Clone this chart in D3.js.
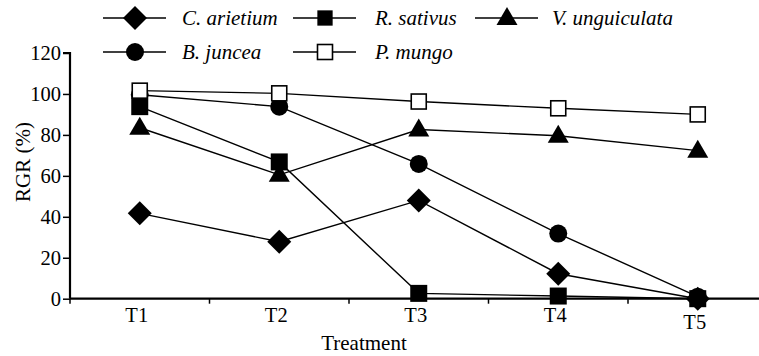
<!DOCTYPE html>
<html>
<head>
<meta charset="utf-8">
<script src="https://cdn.jsdelivr.net/npm/d3@7"></script>
<style>
  body { margin: 0; background: #fff; }
</style>
</head>
<body>
<svg id="chart" width="759" height="356"></svg>
<script>
// categories on the x axis
var treatments = ["T1", "T2", "T3", "T4", "T5"];
var yTicks = [0, 20, 40, 60, 80, 100, 120];

// RGR (%)
var arietium = [41.7, 27.8, 48, 12.2, 0];
var sativus = [93.8, 66.8, 2.6, 1.3, 0];
var unguiculata = [83.5, 60.5, 82.6, 79.6, 72.3];
var juncea = [99.6, 93.8, 65.8, 31.8, 1];
var mungo = [101.6, 100.3, 96.3, 93, 90];

var seriesNames = ["C. arietium", "R. sativus", "V. unguiculata", "B. juncea", "P. mungo"];

var series = [
    {name: seriesNames[0], values: arietium, shape: "diamond"},
    {name: seriesNames[1], values: sativus, shape: "square"},
    {name: seriesNames[2], values: unguiculata, shape: "triangle"},
    {name: seriesNames[3], values: juncea, shape: "circle"},
    {name: seriesNames[4], values: mungo, shape: "open"}
];

var FONT = "Liberation Serif";

var svg = d3.select("#chart");
var margin = {left: 70, top: 53, bottom: 298.7};

var x = d3.scaleBand().domain(treatments).range([margin.left, margin.left + 5 * 139.5]);
var y = d3.scaleLinear().domain([0, 120]).range([margin.bottom, margin.top]);

// marker drawing
function marker(g, shape, small) {
    var k = small ? 0.9 : 1;
    if (shape === "diamond") {
        g.append("path").attr("d", "M0,-12L12,0L0,12L-12,0Z").attr("fill", "#000");
    } else if (shape === "square") {
        g.append("rect").attr("x", -8.5 * k).attr("y", -8.5 * k).attr("width", 17 * k).attr("height", 17 * k).attr("fill", "#000");
    } else if (shape === "triangle") {
        g.append("path").attr("d", "M0,-11L10.5,7L-10.5,7Z").attr("fill", "#000");
    } else if (shape === "circle") {
        g.append("circle").attr("r", 9).attr("fill", "#000");
    } else {
        g.append("rect").attr("x", -7.5).attr("y", -7.5).attr("width", 15).attr("height", 15)
            .attr("fill", "#fff").attr("stroke", "#000").attr("stroke-width", 1.6);
    }
}

var cx = function (i) { return x(treatments[i]) + x.bandwidth() / 2; };

var line = d3.line()
    .x(function (d, i) { return cx(i); })
    .y(function (d) { return y(d); });

// lines first, then markers on top
series.forEach(function (s) {
    svg.append("path")
        .datum(s.values)
        .attr("d", line)
        .attr("fill", "none")
        .attr("stroke", "#000")
        .attr("stroke-width", 1.4);
});

series.forEach(function (s) {
    s.values.forEach(function (v, i) {
        var g = svg.append("g").attr("transform", "translate(" + cx(i) + "," + y(v) + ")");
        marker(g, s.shape);
    });
});

// axes
var yAxis = svg.append("g")
    .attr("transform", "translate(" + margin.left + ",0)")
    .call(d3.axisLeft(y).tickValues(yTicks).tickSize(7).tickPadding(2));

var xAxis = svg.append("g")
    .attr("transform", "translate(0," + margin.bottom + ")")
    .call(d3.axisBottom(x).tickSize(0).tickPadding(8.5));

// tick marks between categories
svg.append("g").selectAll("line")
    .data(treatments.slice(1))
    .enter().append("line")
    .attr("x1", function (d) { return x(d); })
    .attr("x2", function (d) { return x(d); })
    .attr("y1", margin.bottom)
    .attr("y2", margin.bottom + 5)
    .attr("stroke", "#000").attr("stroke-width", 1.5);
svg.append("line")
    .attr("x1", margin.left).attr("x2", margin.left)
    .attr("y1", margin.bottom).attr("y2", margin.bottom + 5)
    .attr("stroke", "#000").attr("stroke-width", 1.5);

[yAxis, xAxis].forEach(function (a) {
    a.attr("font-family", null).attr("font-size", null);
    a.selectAll(".domain").attr("stroke-width", 2.2).attr("stroke", "#000");
    a.selectAll(".tick line").attr("stroke-width", 1.5).attr("stroke", "#000");
    a.selectAll("text").attr("fill", "#000")
        .style("font-family", FONT).style("font-size", "20.5px");
});
yAxis.select(".domain").attr("d", "M-7," + y(120) + "H0V" + margin.bottom);
xAxis.select(".domain").attr("d", "M" + margin.left + ",0H759");
xAxis.selectAll(".tick text").attr("dx", -3);
xAxis.selectAll(".tick").filter(function (d) { return d === "T5"; })
    .select("text").attr("dy", "1.05em");

// axis titles
svg.append("text")
    .attr("x", 364).attr("y", 350)
    .attr("text-anchor", "middle")
    .style("font-family", FONT).style("font-size", "21px")
    .text("Treatment");

svg.append("text")
    .attr("transform", "translate(30,162) rotate(-90)")
    .attr("text-anchor", "middle")
    .style("font-family", FONT).style("font-size", "21px")
    .text("RGR (%)");

// legend
var legendPos = [
    {lx: 103, ty: 18, tx: 182}, {lx: 293, ty: 18, tx: 375}, {lx: 475, ty: 18, tx: 552},
    {lx: 103, ty: 52, tx: 182}, {lx: 293, ty: 52, tx: 375}
];
series.forEach(function (s, i) {
    var p = legendPos[i];
    var g = svg.append("g").attr("transform", "translate(" + p.lx + "," + p.ty + ")");
    g.append("line").attr("x1", 0).attr("x2", 63).attr("y1", 0).attr("y2", 0)
        .attr("stroke", "#000").attr("stroke-width", 1.6);
    var m = g.append("g").attr("transform", "translate(32,0)");
    marker(m, s.shape, true);
    svg.append("text")
        .attr("x", p.tx).attr("y", p.ty + 7)
        .style("font-family", FONT).style("font-size", "21px")
        .style("font-style", "italic")
        .text(s.name);
});
</script>
</body>
</html>
